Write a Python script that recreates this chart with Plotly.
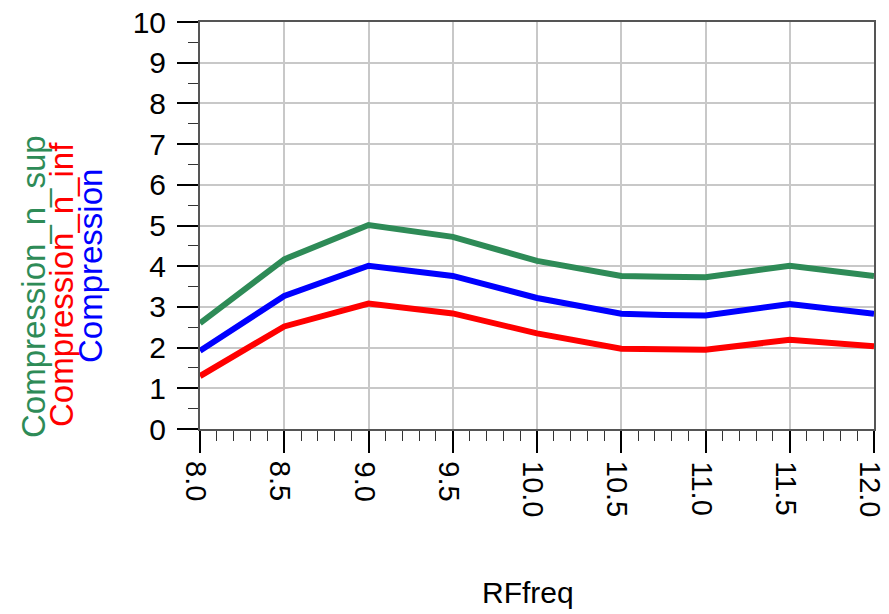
import plotly.graph_objects as go

rf_freq = [8.0, 8.5, 9.0, 9.5, 10.0, 10.5, 10.75, 11.0, 11.5, 12.0]
compression_n_sup = [2.60, 4.17, 5.01, 4.72, 4.13, 3.76, 3.74, 3.73, 4.01, 3.76]
compression = [1.92, 3.27, 4.01, 3.76, 3.22, 2.83, 2.80, 2.79, 3.07, 2.83]
compression_n_inf = [1.30, 2.52, 3.08, 2.84, 2.35, 1.97, 1.96, 1.95, 2.19, 2.03]
x_ticks = [8.0, 8.5, 9.0, 9.5, 10.0, 10.5, 11.0, 11.5, 12.0]
x_tick_labels = ["8.0", "8.5", "9.0", "9.5", "10.0", "10.5", "11.0", "11.5", "12.0"]
x_title = "RFfreq"

series = [
    ("Compression_n_sup", compression_n_sup, "#2E8B57"),
    ("Compression_n_inf", compression_n_inf, "#FF0000"),
    ("Compression", compression, "#0000FF"),
]

fig = go.Figure()
for name, vals, col in series:
    fig.add_trace(go.Scatter(x=rf_freq, y=vals, mode="lines", name=name,
                             line=dict(color=col, width=6)))

W, H = 889, 614
L, R, T, B = 200, 15, 22, 185
pw, ph = W - L - R, H - T - B
FONT = "Liberation Sans, Arial"

def px(x):
    return (x - L) / pw

def py(y):
    return (H - B - y) / ph

label_pos = [("Compression_n_sup", "#2E8B57", 33, 287),
             ("Compression_n_inf", "#FF0000", 61, 285),
             ("Compression", "#0000FF", 90, 266)]
annots = []
for txt, col, x, y in label_pos:
    annots.append(dict(text=txt, x=px(x), y=py(y), xref="paper", yref="paper",
                       xanchor="center", yanchor="middle", textangle=-90,
                       showarrow=False,
                       font=dict(family=FONT, size=33, color=col)))

# x tick labels (rotated), anchored to the x axis scale
for v, t in zip(x_ticks, x_tick_labels):
    annots.append(dict(text=t, x=v, xref="x", y=py(459), yref="paper",
                       xanchor="center", yanchor="top", textangle=90,
                       xshift=-4, showarrow=False,
                       font=dict(family=FONT, size=29, color="black")))

annots.append(dict(text=x_title, x=px(528), y=py(592), xref="paper", yref="paper",
                   xanchor="center", yanchor="middle", showarrow=False,
                   font=dict(family=FONT, size=30, color="black")))

fig.update_layout(
    width=W, height=H,
    margin=dict(l=L, r=R, t=T, b=B, autoexpand=False),
    paper_bgcolor="white", plot_bgcolor="white",
    showlegend=False,
    font=dict(family=FONT, size=30, color="black"),
    annotations=annots,
    xaxis=dict(
        range=[8, 12], tickmode="array", tickvals=x_ticks, showticklabels=False,
        automargin=False,
        ticks="outside", ticklen=22, tickwidth=1.5, tickcolor="black",
        showgrid=True, gridcolor="#c8c8c8", gridwidth=1.5,
        showline=True, linecolor="#555555", linewidth=2, mirror=True,
        zeroline=False,
        minor=dict(dtick=0.1, tick0=8, ticks="outside", ticklen=10, tickwidth=1, tickcolor="#333333", showgrid=False),
    ),
    yaxis=dict(
        range=[0, 10], dtick=1, tick0=0, automargin=False,
        ticks="outside", ticklen=21, tickwidth=1.5, tickcolor="black",
        showgrid=True, gridcolor="#c8c8c8", gridwidth=1.5,
        showline=True, linecolor="#555555", linewidth=2, mirror=True,
        zeroline=False, ticklabelstandoff=5,
        minor=dict(dtick=0.5, ticks="outside", ticklen=10, tickwidth=1, tickcolor="#333333", showgrid=False),
        tickfont=dict(size=30),
    ),
)

fig.write_html("out.html")
